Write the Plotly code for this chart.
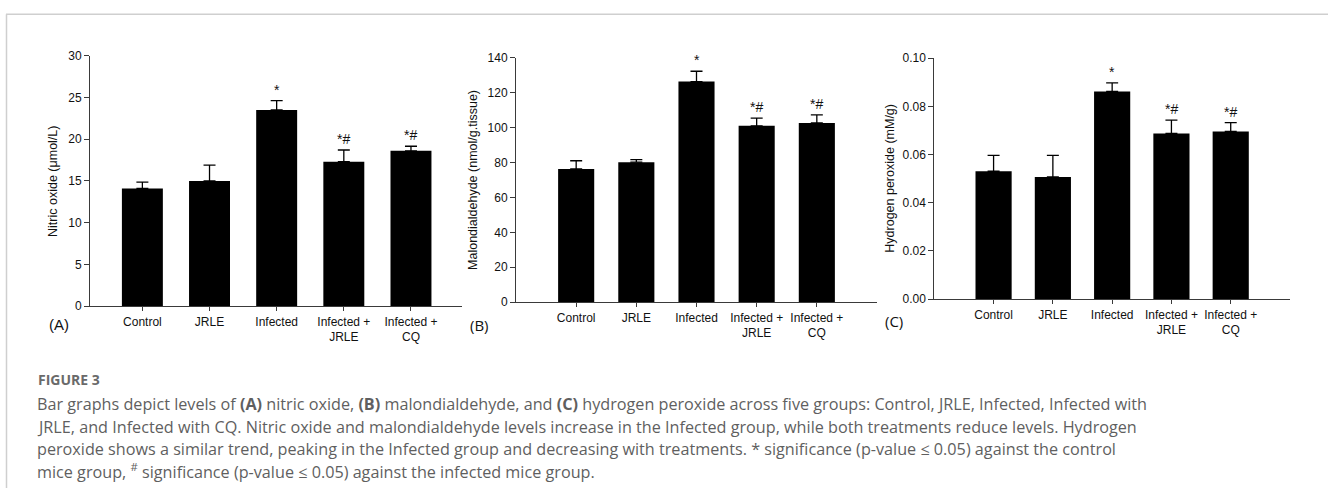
import plotly.graph_objects as go

W, H = 1328, 495

groups = ["Control", "JRLE", "Infected", "Infected +<br>JRLE", "Infected +<br>CQ"]

no_mean = [14.1, 15.0, 23.5, 17.3, 18.6]
no_err = [0.75, 1.9, 1.1, 1.4, 0.55]

mda_mean = [76.3, 80.2, 126.4, 101.0, 102.7]
mda_err = [4.7, 1.5, 5.9, 4.4, 4.6]

h2o2_mean = [0.0531, 0.0507, 0.0862, 0.0688, 0.0696]
h2o2_err = [0.0066, 0.0090, 0.0036, 0.0055, 0.0037]

sig_marks = ["", "", "*", "*#", "*#"]

y_titles = ["Nitric oxide (μmol/L)", "Malondialdehyde (nmol/g.tissue)", "Hydrogen peroxide (mM/g)"]
panel_labels = ["(A)", "(B)", "(C)"]

caption_head = "FIGURE 3"
caption_lines = [
    "Bar graphs depict levels of <b>(A)</b> nitric oxide, <b>(B)</b> malondialdehyde, and <b>(C)</b> hydrogen peroxide across five groups: Control, JRLE, Infected, Infected with",
    "JRLE, and Infected with CQ. Nitric oxide and malondialdehyde levels increase in the Infected group, while both treatments reduce levels. Hydrogen",
    "peroxide shows a similar trend, peaking in the Infected group and decreasing with treatments. * significance (p-value ≤ 0.05) against the control",
    "mice group, <sup>#</sup> significance (p-value ≤ 0.05) against the infected mice group.",
]

# ---- layout geometry (pixels) ----
panels = [
    dict(x0=90, x1=462, y0=308, y1=50, yr=[0, 30], dt=5, fmt="", xr=[-0.78, 4.76], bw=0.61,
         mean=no_mean, err=no_err, title_x=53, lab_x=59, lab_y=327, labfont="Liberation Sans"),
    dict(x0=516, x1=877, y0=303.7, y1=52.3, yr=[0, 140], dt=20, fmt="", xr=[-1.0, 5.0], bw=0.6,
         mean=mda_mean, err=mda_err, title_x=473, lab_x=479, lab_y=327, labfont="Open Sans"),
    dict(x0=934.3, x1=1290, y0=300.7, y1=52.7, yr=[0, 0.1], dt=0.02, fmt=".2f", xr=[-1.0, 5.0], bw=0.61,
         mean=h2o2_mean, err=h2o2_err, title_x=890, lab_x=894, lab_y=323, labfont="Open Sans"),
]

def px(x):
    return x / W

def py(y):
    return (H - y) / H

fig = go.Figure()
layout = dict(
    width=W, height=H, autosize=False,
    margin=dict(l=0, r=0, t=0, b=0),
    paper_bgcolor="white", plot_bgcolor="white",
    showlegend=False,
    font=dict(family="Liberation Sans, Arial", size=12, color="#111"),
)
annotations = []
shapes = []

axis_color = "#3a3a3a"
tick_font = dict(family="Liberation Sans, Arial", size=12, color="#111")
for i, p in enumerate(panels):
    n = "" if i == 0 else str(i + 1)
    xa, ya = "x" + n, "y" + n
    fig.add_trace(go.Bar(
        x=groups, y=p["mean"], width=p["bw"],
        marker=dict(color="black", line=dict(width=0)),
        error_y=dict(type="data", array=p["err"], symmetric=False,
                     arrayminus=[0] * len(p["err"]), color="black", thickness=1.3, width=6),
        xaxis=xa, yaxis=ya, hoverinfo="skip",
    ))
    layout["xaxis" + n] = dict(
        domain=[px(p["x0"]), px(p["x1"])], anchor=ya, type="category",
        range=p["xr"], showline=True, linecolor=axis_color, linewidth=1,
        ticks="outside", ticklen=4, tickcolor=axis_color, showgrid=False, zeroline=False,
        tickfont=tick_font, fixedrange=True,
    )
    layout["yaxis" + n] = dict(
        domain=[py(p["y0"]), py(p["y1"])], anchor=xa, range=p["yr"],
        tick0=0, dtick=p["dt"], tickformat=p["fmt"],
        showline=True, linecolor=axis_color, linewidth=1,
        ticks="outside", ticklen=5, tickcolor=axis_color, showgrid=False, zeroline=False,
        tickfont=tick_font, fixedrange=True,
    )
    # significance marks
    for g, m, e, s in zip(groups, p["mean"], p["err"], sig_marks):
        if s:
            annotations.append(dict(
                x=g, y=m + e, xref=xa, yref=ya, text=s, showarrow=False,
                yanchor="bottom", yshift=1,
                font=dict(family="Liberation Sans, Arial", size=14, color="#111"),
            ))
    # y title
    annotations.append(dict(
        x=px(p["title_x"]), y=py((p["y0"] + p["y1"]) / 2), xref="paper", yref="paper",
        text=y_titles[i], textangle=-90, showarrow=False, xanchor="center", yanchor="middle",
        font=dict(family="Liberation Sans, Arial", size=12.5, color="#111"),
    ))
    # panel label
    annotations.append(dict(
        x=px(p["lab_x"]), y=py(p["lab_y"]), xref="paper", yref="paper",
        text=panel_labels[i], showarrow=False, xanchor="center", yanchor="middle",
        font=dict(family=p["labfont"], size=15, color="#111"),
    ))

# caption
annotations.append(dict(
    x=px(36), y=py(383), xref="paper", yref="paper", text="<b>" + caption_head + "</b>",
    showarrow=False, xanchor="left", yanchor="middle",
    font=dict(family="Open Sans", size=14, color="#6a6a6a"),
))
for k, line in enumerate(caption_lines):
    annotations.append(dict(
        x=px(35), y=py(409 + 23 * k), xref="paper", yref="paper", text=line,
        showarrow=False, xanchor="left", yanchor="middle", align="left",
        font=dict(family="Open Sans", size=16.2, color="#5f5f5f"),
    ))

# card border (top and left)
shapes.append(dict(type="line", xref="paper", yref="paper", x0=px(6), x1=1, y0=py(7.5), y1=py(7.5),
                   line=dict(color="#cfcfcf", width=1.5)))
shapes.append(dict(type="line", xref="paper", yref="paper", x0=px(6.5), x1=px(6.5), y0=py(7.5), y1=0,
                   line=dict(color="#cfcfcf", width=1.5)))

layout["annotations"] = annotations
layout["shapes"] = shapes
layout["bargap"] = 0.4
fig.update_layout(**layout)
fig.write_html("out.html")
